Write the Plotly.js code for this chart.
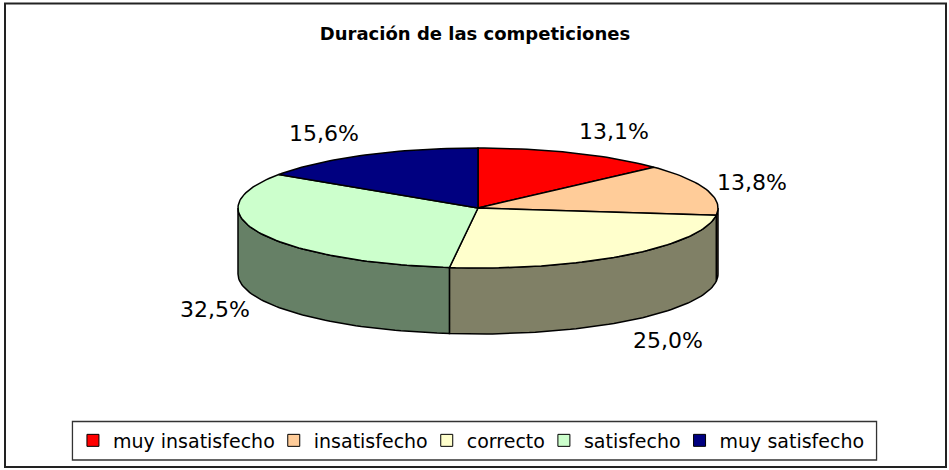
<!DOCTYPE html>
<html><head><meta charset="utf-8">
<script src="https://cdn.plot.ly/plotly-3.0.1.min.js"></script>
<style>html,body{margin:0;padding:0;background:#fff}</style>
</head><body><div id="chart" style="width:949px;height:470px"></div>
<script>
// ---- data ----
const categories = ['muy insatisfecho', 'insatisfecho', 'correcto', 'satisfecho', 'muy satisfecho'];
const values = [13.1, 13.8, 25.0, 32.5, 15.6];
const topColors = ['#FF0000', '#FFCC99', '#FFFFCC', '#CCFFCC', '#000080'];
const sideColors = ['#800000', '#806650', '#808066', '#668066', '#000040'];
const titleText = 'Duración de las competiciones';

// ---- layout constants (pixel units of the hidden axes) ----
const CX = 478, CY = 208, RX = 240, RY = 60, DEPTH = 66;
const LABEL_RX = 250, LABEL_HALF = 36, LABEL_RY = 84;
const LEGEND_FONT = {family: 'DejaVu Sans', size: 19, color: '#000'};
const LEGEND_CENTER = 474.5, LEGEND_Y = 440.5, LEGEND_TOP = 421.5, LEGEND_BOTTOM = 460;
const SQUARE_TO_TEXT = 29, TEXT_TO_SQUARE = 10, BOX_PAD = 12;

const total = values.reduce((a, b) => a + b, 0);
function pt(deg, dy) {
  const r = deg * Math.PI / 180;
  return [CX + RX * Math.sin(r), CY - RY * Math.cos(r) + (dy || 0)];
}
function arc(a, b, dy) {
  const xs = [], ys = [];
  const n = Math.max(2, Math.ceil(Math.abs(b - a) / 1.5));
  for (let i = 0; i <= n; i++) {
    const p = pt(a + (b - a) * i / n, dy);
    xs.push(p[0]); ys.push(p[1]);
  }
  return [xs, ys];
}

// legend layout: measure the entry texts, then pack entries tightly like Excel
const ctx = document.createElement('canvas').getContext('2d');
ctx.font = LEGEND_FONT.size + 'px "' + LEGEND_FONT.family + '"';
const textW = categories.map(c => ctx.measureText(c).width);
const totalW = textW.reduce((a, w) => a + SQUARE_TO_TEXT + w, 0) + TEXT_TO_SQUARE * (categories.length - 1);
const squareLeft = [];
let xpos = LEGEND_CENTER - totalW / 2;
textW.forEach(w => { squareLeft.push(xpos); xpos += SQUARE_TO_TEXT + w + TEXT_TO_SQUARE; });
const legendEnd = xpos - TEXT_TO_SQUARE;

const sideTraces = [], topTraces = [], legendTraces = [], annotations = [];
const layout = {
  width: 949, height: 470,
  margin: {l: 0, r: 0, t: 0, b: 0},
  paper_bgcolor: '#fff', plot_bgcolor: '#fff',
  title: {
    text: '<b>' + titleText + '</b>', x: 475 / 949, xanchor: 'center',
    y: 1 - 34 / 470, yanchor: 'middle', xref: 'container', yref: 'container',
    font: {family: 'DejaVu Sans', size: 18, color: '#000'}
  },
  xaxis: {range: [0, 949], visible: false, fixedrange: true},
  yaxis: {range: [470, 0], visible: false, fixedrange: true},
  showlegend: true
};

let cum = 0;
values.forEach((v, i) => {
  const a = cum / total * 360;
  const b = (cum + v) / total * 360;
  cum += v;
  // visible side wall (front half: 90..270 deg)
  const s = Math.max(a, 90), e = Math.min(b, 270);
  if (e > s) {
    const t = arc(s, e, 0), bt = arc(e, s, DEPTH);
    const xs = t[0].concat(bt[0]); const ys = t[1].concat(bt[1]);
    xs.push(xs[0]); ys.push(ys[0]);
    sideTraces.push({
      type: 'scatter', mode: 'lines', x: xs, y: ys, fill: 'toself',
      fillcolor: sideColors[i], line: {color: '#000', width: 1.5},
      hoverinfo: 'skip', showlegend: false
    });
  }
  // top face
  const t = arc(a, b, 0);
  topTraces.push({
    type: 'scatter', mode: 'lines',
    x: [CX].concat(t[0], [CX]), y: [CY].concat(t[1], [CY]),
    fill: 'toself', fillcolor: topColors[i], line: {color: '#000', width: 1.5},
    hoverinfo: 'skip', showlegend: false
  });
  // legend entry (one small legend per entry, to get Excel-like tight spacing)
  const legName = i === 0 ? 'legend' : 'legend' + (i + 1);
  legendTraces.push({
    type: 'scatter', mode: 'markers', x: [null], y: [null], name: categories[i],
    legend: legName,
    marker: {symbol: 'square', size: 12, color: topColors[i], line: {color: '#000', width: 1}},
    hoverinfo: 'skip'
  });
  layout[legName] = {
    orientation: 'h', x: (squareLeft[i] - 11.5) / 949, xanchor: 'left',
    y: 1 - LEGEND_Y / 470, yanchor: 'middle', borderwidth: 0, bgcolor: 'rgba(0,0,0,0)',
    font: LEGEND_FONT
  };
  // data label
  const m = (a + b) / 2 * Math.PI / 180;
  const sn = Math.sin(m), cs = Math.cos(m);
  annotations.push({
    x: CX + LABEL_RX * sn + LABEL_HALF * Math.sign(sn),
    y: CY - LABEL_RY * cs + (cs < 0 ? DEPTH : 0),
    xref: 'x', yref: 'y', showarrow: false, xanchor: 'center', yanchor: 'middle',
    text: v.toFixed(1).replace('.', ',') + '%',
    font: {family: 'DejaVu Sans', size: 22, color: '#000'}
  });
});

layout.annotations = annotations;
layout.shapes = [
  { // chart frame
    type: 'rect', xref: 'paper', yref: 'paper',
    x0: 5 / 949, x1: 946 / 949, y0: 1 - 467 / 470, y1: 1 - 3.5 / 470,
    line: {color: '#222', width: 2}, fillcolor: 'rgba(0,0,0,0)', layer: 'below'
  },
  { // legend box
    type: 'rect', xref: 'x', yref: 'y',
    x0: squareLeft[0] - BOX_PAD, x1: legendEnd + BOX_PAD, y0: LEGEND_TOP, y1: LEGEND_BOTTOM,
    line: {color: '#333', width: 1.3}, fillcolor: 'rgba(0,0,0,0)', layer: 'below'
  }
];

Plotly.newPlot('chart', sideTraces.concat(topTraces, legendTraces), layout,
  {displayModeBar: false, staticPlot: true});
</script></body></html>
